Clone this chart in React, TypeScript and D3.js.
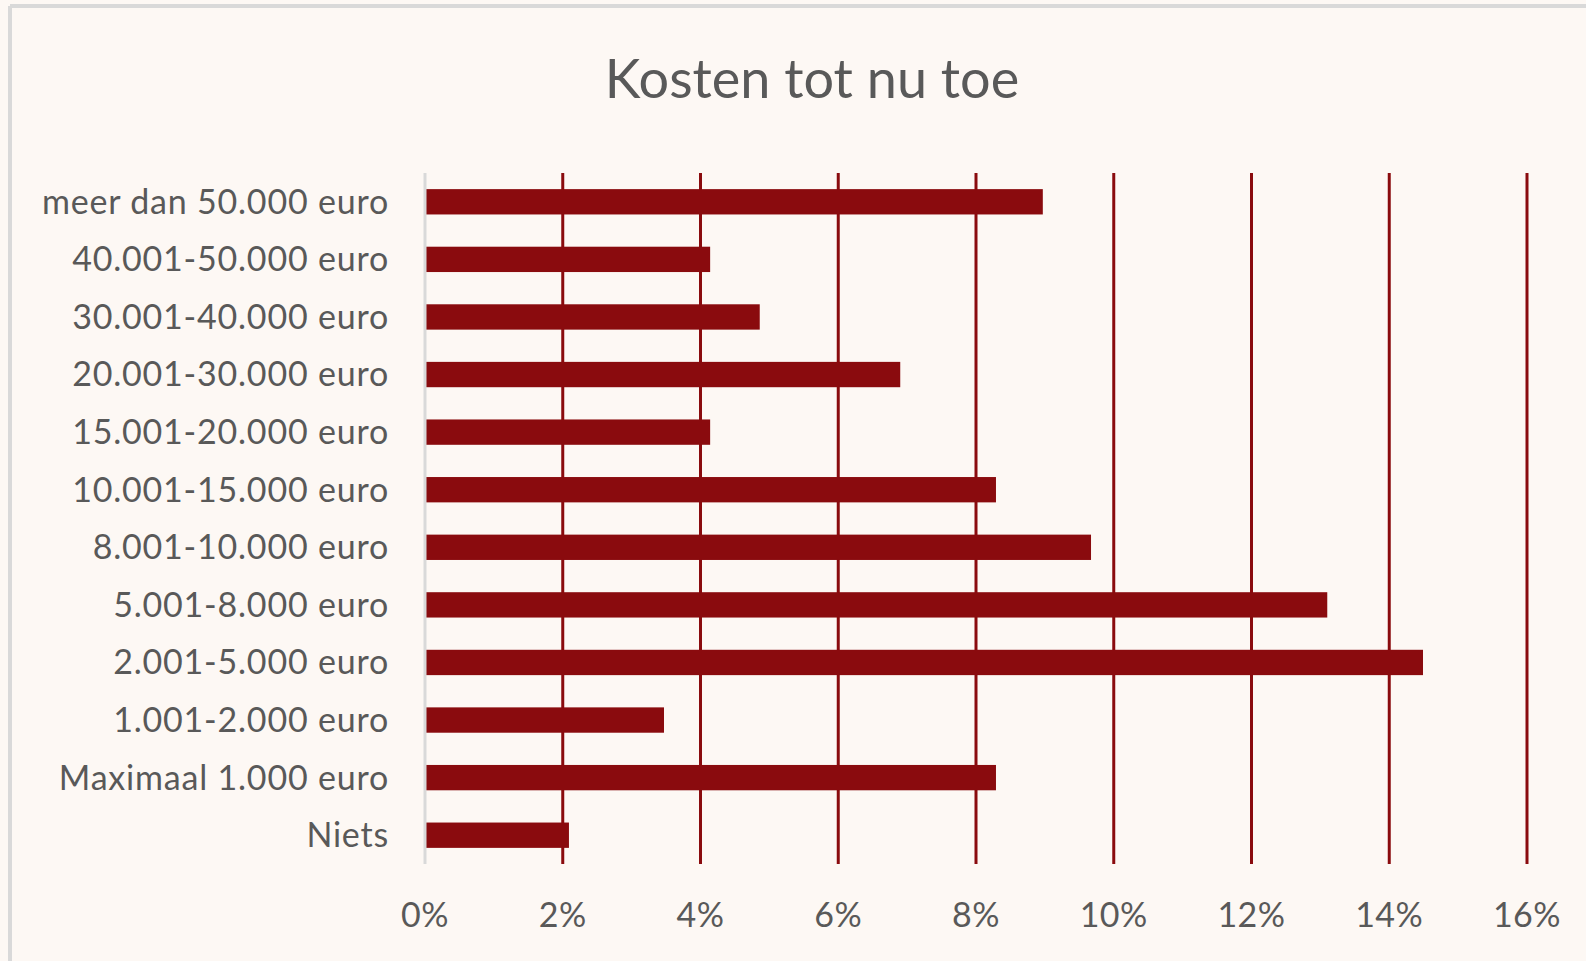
import React from "react";
import * as d3 from "d3";

const categories = [
  "meer dan 50.000 euro",
  "40.001-50.000 euro",
  "30.001-40.000 euro",
  "20.001-30.000 euro",
  "15.001-20.000 euro",
  "10.001-15.000 euro",
  "8.001-10.000 euro",
  "5.001-8.000 euro",
  "2.001-5.000 euro",
  "1.001-2.000 euro",
  "Maximaal 1.000 euro",
  "Niets",
];
const values = [8.97, 4.14, 4.86, 6.9, 4.14, 8.29, 9.67, 13.1, 14.49, 3.47, 8.29, 2.09];
const ticks = [0, 2, 4, 6, 8, 10, 12, 14, 16];
const title = "Kosten tot nu toe";

const W = 1586;
const H = 961;
const BAR = "#8a0b0e";
const TEXT = "#595959";
const FONT = "Lato, 'Open Sans', sans-serif";

export default function App() {
  const x = d3.scaleLinear().domain([0, 16]).range([425, 1527]);
  const y = d3.scaleBand<string>().domain(categories).range([173, 864]).paddingInner(0.56).paddingOuter(0.28);

  return (
    <svg
      width={W}
      height={H}
      style={{ position: "absolute", left: 0, top: 0, display: "block" }}
    >
      <rect x={0} y={0} width={W} height={H} fill="#fdf8f4" />
      <line x1={10} y1={6} x2={W} y2={6} stroke="#d9d9d9" strokeWidth={4} />
      <line x1={10} y1={6} x2={10} y2={H} stroke="#d9d9d9" strokeWidth={4} />
      <text
        x={812}
        y={98}
        textAnchor="middle"
        fontFamily={FONT}
        fontSize={54}
        fill={TEXT}
        letterSpacing={0}
      >
        {title}
      </text>
      {ticks.slice(1).map((t) => (
        <line key={t} x1={x(t)} x2={x(t)} y1={173} y2={864} stroke={BAR} strokeWidth={3} />
      ))}
      {categories.map((c, i) => (
        <rect
          key={c}
          x={x(0)}
          y={y(c)!}
          width={x(values[i]) - x(0)}
          height={y.bandwidth()}
          fill={BAR}
        />
      ))}
      <line x1={x(0)} x2={x(0)} y1={173} y2={864} stroke="#d9d9d9" strokeWidth={3} />
      {categories.map((c) => (
        <text
          key={c}
          x={389}
          y={y(c)! + y.bandwidth() / 2}
          dy="0.35em"
          textAnchor="end"
          fontFamily={FONT}
          fontSize={34}
          letterSpacing={0.8}
          fill={TEXT}
        >
          {c}
        </text>
      ))}
      {ticks.map((t) => (
        <text
          key={t}
          x={x(t)}
          y={927}
          textAnchor="middle"
          fontFamily={FONT}
          fontSize={34}
          letterSpacing={0.5}
          fill={TEXT}
        >
          {t}%
        </text>
      ))}
    </svg>
  );
}
